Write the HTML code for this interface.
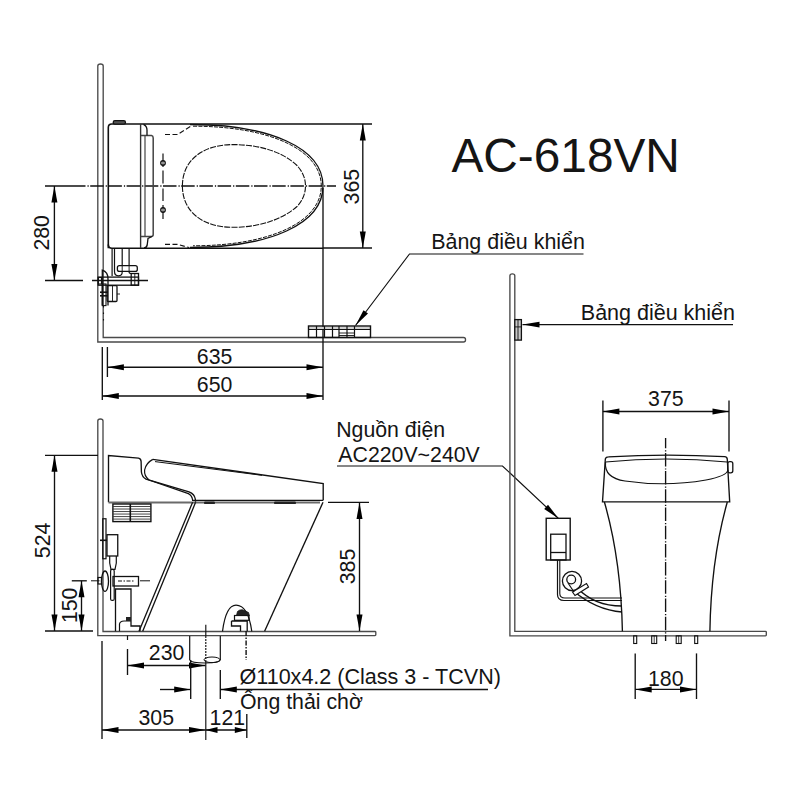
<!DOCTYPE html>
<html><head><meta charset="utf-8"><style>
html,body{margin:0;padding:0;background:#fff;}
svg{display:block;}
text{font-family:"Liberation Sans",sans-serif;fill:#151515;}
</style></head><body>
<svg width="800" height="800" viewBox="0 0 800 800">
<rect width="800" height="800" fill="#fff"/>
<path d="M97.8,66 Q97.8,64 100.5,64 Q103.2,64 103.2,66 L103.2,337.5 L463.5,337.5 Q465.5,337.5 465.5,339.5 L465.5,340 Q465.5,342 463.5,342 L97.8,342 Z" fill="none" stroke="#4a4a4a" stroke-width="1.35" />
<line x1="45" y1="186" x2="84" y2="186" stroke="#111" stroke-width="1.35" />
<line x1="84" y1="186" x2="336" y2="186" stroke="#111" stroke-width="1.35" stroke-dasharray="13.5 2 1.2 1.5" stroke-dashoffset="12.000000000000007"/>
<line x1="54.4" y1="186" x2="54.4" y2="280.5" stroke="#111" stroke-width="1.35" />
<polygon points="54.40,186.00 57.40,202.50 51.40,202.50" fill="#000"/>
<polygon points="54.40,280.50 51.40,264.00 57.40,264.00" fill="#000"/>
<line x1="45" y1="280.5" x2="83" y2="280.5" stroke="#111" stroke-width="1.35" />
<line x1="92" y1="280.5" x2="148" y2="280.5" stroke="#111" stroke-width="1.35" />
<text x="0" y="0" font-size="21.3" transform="translate(49.3 250.6) rotate(-90) scale(1.0 1.05)" >280</text>
<line x1="323" y1="124" x2="372" y2="124" stroke="#111" stroke-width="1.35" />
<line x1="323" y1="248" x2="372" y2="248" stroke="#111" stroke-width="1.35" />
<line x1="362.8" y1="124" x2="362.8" y2="248" stroke="#111" stroke-width="1.35" />
<polygon points="362.80,124.00 365.80,140.50 359.80,140.50" fill="#000"/>
<polygon points="362.80,248.00 359.80,231.50 365.80,231.50" fill="#000"/>
<text x="0" y="0" font-size="21.3" transform="translate(358.5 204.4) rotate(-90) scale(1.0 1.05)" >365</text>
<path d="M108.3,248.2 L108.3,127.5 Q108.3,124 111.8,124 L323,124" fill="none" stroke="#111" stroke-width="1.6" />
<path d="M108.3,244.5 Q108.3,248.2 112,248.2 L323,248.2" fill="none" stroke="#111" stroke-width="1.6" />
<rect x="113.2" y="120.6" width="12.3" height="3.6" rx="1.8" fill="#555" stroke="#111" stroke-width="1.3" />
<line x1="140.6" y1="124" x2="140.6" y2="248" stroke="#333" stroke-width="1.4" />
<path d="M141,135.5 L151.5,135.5 Q153.2,135.8 153.2,138 L153.2,234.5 Q153.2,236.4 151.5,236.4 L141,236.4" fill="none" stroke="#444" stroke-width="1.5" />
<line x1="145" y1="135.5" x2="145" y2="236.4" stroke="#444" stroke-width="1.2" />
<path d="M143.5,124.3 Q147,126 147,130 L147,135.5" fill="none" stroke="#111" stroke-width="1.3" />
<path d="M152,236.5 L148,238.5 L147.2,245 Q146.5,248 144,248" fill="none" stroke="#111" stroke-width="1.3" />
<line x1="163" y1="153.5" x2="163" y2="167" stroke="#111" stroke-width="1.2" />
<line x1="163" y1="170.5" x2="163" y2="183.5" stroke="#111" stroke-width="1.2" />
<line x1="163" y1="188.5" x2="163" y2="201" stroke="#111" stroke-width="1.2" />
<line x1="163" y1="205" x2="163" y2="219" stroke="#111" stroke-width="1.2" />
<circle cx="163" cy="163" r="2.3" fill="#666" stroke="#111" stroke-width="1.2"/>
<circle cx="163" cy="210" r="2.3" fill="#666" stroke="#111" stroke-width="1.2"/>
<line x1="161" y1="163" x2="165" y2="163" stroke="#eee" stroke-width="0.7" />
<line x1="161" y1="210" x2="165" y2="210" stroke="#eee" stroke-width="0.7" />
<path d="M190,124.5 C270,124.5 323,148 323,186 C323,224 270,247.5 190,247.5" fill="none" stroke="#111" stroke-width="1.35" />
<path d="M193,126.2 C269,126.2 321.3,149.5 321.3,186 C321.3,222.5 269,245.8 193,245.8" fill="none" stroke="#111" stroke-width="1.0" stroke-dasharray="4 1.2"/>
<path d="M165,134.5 L177.5,134.5 L192,125.5" fill="none" stroke="#111" stroke-width="1.1" stroke-dasharray="5 2.5"/>
<path d="M165,244.4 L177.5,244.4 L189,247.5" fill="none" stroke="#111" stroke-width="1.1" stroke-dasharray="5 2.5"/>
<path d="M182.4,186 C182.4,160 203,144.6 233,144.6 C262,144.6 284,153 297,165.5 C303,172 305.5,179 305.5,186 C305.5,193 303,200 297,206.5 C284,218 262,227.3 233,227.3 C203,227.3 182.4,212 182.4,186 Z" fill="none" stroke="#111" stroke-width="1.1" stroke-dasharray="6 1.2"/>
<line x1="323" y1="188" x2="323" y2="400" stroke="#111" stroke-width="1.35" />
<line x1="112.1" y1="248.5" x2="112.1" y2="276" stroke="#111" stroke-width="1.2" />
<path d="M114.5,248.5 L114.5,271.5 Q114.5,275.8 118.5,275.8 L118.5,275.8 Q122.2,275.8 122.2,272 L122.2,271.4" fill="none" stroke="#111" stroke-width="1.2" />
<line x1="122.2" y1="248.5" x2="122.2" y2="265.7" stroke="#111" stroke-width="1.2" />
<line x1="129.1" y1="248.5" x2="129.1" y2="265.7" stroke="#111" stroke-width="1.2" />
<rect x="117.4" y="265.7" width="19.9" height="5.7" rx="2" fill="none" stroke="#111" stroke-width="1.3" />
<line x1="122.2" y1="265.7" x2="122.2" y2="271.4" stroke="#111" stroke-width="0.9" />
<line x1="129.1" y1="265.7" x2="129.1" y2="271.4" stroke="#111" stroke-width="0.9" />
<path d="M129.1,271.4 L129.1,272 Q129.1,273.5 131.2,273.5" fill="none" stroke="#111" stroke-width="1.2" />
<rect x="98.25" y="277.1" width="40.25" height="8.1" rx="0" fill="none" stroke="#111" stroke-width="1.3" />
<rect x="131.2" y="273.5" width="7.3" height="11.7" rx="0" fill="none" stroke="#111" stroke-width="1.3" />
<line x1="134.8" y1="273.5" x2="134.8" y2="285.2" stroke="#111" stroke-width="0.9" />
<rect x="98.25" y="277.5" width="3.25" height="6.5" rx="0" fill="none" stroke="#111" stroke-width="1.1" />
<path d="M102.3,305.6 L102.3,270.2 Q108,272 108,279 L108,305.6" fill="none" stroke="#111" stroke-width="1.3" />
<rect x="102.3" y="284" width="3.7" height="21.6" rx="0" fill="none" stroke="#111" stroke-width="1.1" />
<line x1="100" y1="292.2" x2="108" y2="292.2" stroke="#111" stroke-width="1.6" />
<line x1="100" y1="295.8" x2="108" y2="295.8" stroke="#111" stroke-width="1.6" />
<rect x="107.2" y="285.6" width="9.8" height="15.9" rx="1" fill="none" stroke="#111" stroke-width="1.3" />
<line x1="112.5" y1="285.6" x2="112.5" y2="301.5" stroke="#111" stroke-width="0.9" />
<line x1="117" y1="294" x2="120" y2="294" stroke="#111" stroke-width="0.9" />
<line x1="103.5" y1="306" x2="103.5" y2="322" stroke="#111" stroke-width="1.1" stroke-dasharray="1.5 5"/>
<line x1="107.4" y1="347" x2="107.4" y2="377" stroke="#111" stroke-width="1.35" />
<line x1="102.3" y1="347" x2="102.3" y2="400" stroke="#111" stroke-width="1.35" />
<line x1="107.4" y1="367.2" x2="323" y2="367.2" stroke="#111" stroke-width="1.35" />
<polygon points="107.40,367.20 123.90,364.20 123.90,370.20" fill="#000"/>
<polygon points="323.00,367.20 306.50,370.20 306.50,364.20" fill="#000"/>
<line x1="102.3" y1="396" x2="323" y2="396" stroke="#111" stroke-width="1.35" />
<polygon points="102.30,396.00 118.80,393.00 118.80,399.00" fill="#000"/>
<polygon points="323.00,396.00 306.50,399.00 306.50,393.00" fill="#000"/>
<text x="0" y="0" font-size="21.3" transform="translate(196.8 363.5) scale(1.0 1.05)" >635</text>
<text x="0" y="0" font-size="21.3" transform="translate(196.8 392.2) scale(1.0 1.05)" >650</text>
<rect x="309" y="326.7" width="61" height="2.5" fill="#d0d0d0"/>
<rect x="308.5" y="326" width="62" height="11.5" rx="0" fill="none" stroke="#111" stroke-width="1.4" />
<line x1="308.5" y1="329.5" x2="370.5" y2="329.5" stroke="#111" stroke-width="1.1" />
<line x1="316.5" y1="326" x2="316.5" y2="337.5" stroke="#111" stroke-width="1.2" />
<line x1="324.5" y1="326" x2="324.5" y2="337.5" stroke="#111" stroke-width="1.2" />
<line x1="332.5" y1="326" x2="332.5" y2="337.5" stroke="#111" stroke-width="1.2" />
<line x1="339" y1="326" x2="339" y2="337.5" stroke="#111" stroke-width="1.2" />
<line x1="347" y1="326" x2="347" y2="337.5" stroke="#111" stroke-width="1.2" />
<line x1="354.5" y1="326" x2="354.5" y2="337.5" stroke="#111" stroke-width="1.2" />
<line x1="339" y1="333" x2="354.5" y2="333" stroke="#111" stroke-width="0.9" />
<line x1="339" y1="335.5" x2="354.5" y2="335.5" stroke="#111" stroke-width="0.9" />
<polyline points="355.5,325.5 409.5,254 583.5,254" fill="none" stroke="#111" stroke-width="1.15" />
<polygon points="355.50,325.50 363.51,310.25 367.98,313.62" fill="#000"/>
<text x="0" y="0" font-size="21.45" transform="translate(431.2 249)" >Bảng điều khiển</text>
<text x="0" y="0" font-size="47.8" transform="translate(451.4 171.6)" >AC-618VN</text>
<path d="M97.8,421 Q97.8,419 100.4,419 Q103,419 103,421 L103,631.5 L375.0,631.5 Q375.8,631.5 375.8,632.3 L375.8,634.8000000000001 Q375.8,635.6 375.0,635.6 L97.8,635.6 Z" fill="none" stroke="#4a4a4a" stroke-width="1.35" />
<line x1="45" y1="455.3" x2="98" y2="455.3" stroke="#111" stroke-width="1.35" />
<line x1="45" y1="631" x2="93" y2="631" stroke="#111" stroke-width="1.35" />
<line x1="54.5" y1="455.3" x2="54.5" y2="631" stroke="#111" stroke-width="1.35" />
<polygon points="54.50,455.30 57.50,471.80 51.50,471.80" fill="#000"/>
<polygon points="54.50,631.00 51.50,614.50 57.50,614.50" fill="#000"/>
<text x="0" y="0" font-size="21.3" transform="translate(49.6 558.2) rotate(-90) scale(1.0 1.05)" >524</text>
<line x1="71.8" y1="580.8" x2="86.8" y2="580.8" stroke="#111" stroke-width="1.35" />
<line x1="81.5" y1="580.8" x2="81.5" y2="631" stroke="#111" stroke-width="1.35" />
<polygon points="81.50,580.80 84.50,597.30 78.50,597.30" fill="#000"/>
<polygon points="81.50,631.00 78.50,614.50 84.50,614.50" fill="#000"/>
<text x="0" y="0" font-size="21.3" transform="translate(77.4 623.1) rotate(-90) scale(1.0 1.05)" >150</text>
<line x1="91" y1="580.8" x2="99.5" y2="580.8" stroke="#111" stroke-width="1.0" />
<line x1="140" y1="580.8" x2="150" y2="580.8" stroke="#111" stroke-width="1.0" />
<path d="M108.5,502.3 L108.5,455.6 L138.5,458.1 Q141,458.6 141.1,461.5 L141.4,472 Q142,477 146,479.2 L189,491.8 Q194.6,494 195.3,499 L195.6,502.3" fill="none" stroke="#111" stroke-width="1.35" />
<path d="M152.8,459.4 L323.2,483.6 L323.2,500.3" fill="none" stroke="#111" stroke-width="1.35" />
<path d="M155,461.6 L262,475.3" fill="none" stroke="#111" stroke-width="1.0" />
<path d="M152.8,459.4 Q146,463 144.6,470 Q144,476 149,480 L188.4,493.6 Q192,495.5 192.6,500" fill="none" stroke="#111" stroke-width="1.2" />
<line x1="108.5" y1="502.4" x2="320" y2="502.4" stroke="#6a6a6a" stroke-width="2.0" />
<line x1="192" y1="500.3" x2="323.2" y2="500.3" stroke="#111" stroke-width="1.3" />
<line x1="328" y1="502.4" x2="369" y2="502.4" stroke="#111" stroke-width="1.35" />
<rect x="204" y="501.5" width="11" height="2.6" rx="1.2" fill="#222"/>
<rect x="274" y="501.5" width="22" height="2.6" rx="1.2" fill="#222"/>
<line x1="195.6" y1="502.3" x2="142.7" y2="631.3" stroke="#111" stroke-width="1.3" />
<line x1="192.6" y1="502.3" x2="139" y2="631.3" stroke="#111" stroke-width="1.3" />
<line x1="323" y1="502.3" x2="264.6" y2="631.3" stroke="#111" stroke-width="1.35" />
<rect x="112.9" y="504" width="38" height="17.6" rx="0" fill="none" stroke="#111" stroke-width="1.4" />
<line x1="112.9" y1="506.51428571428573" x2="150.9" y2="506.51428571428573" stroke="#333" stroke-width="0.9" />
<line x1="112.9" y1="509.0285714285714" x2="150.9" y2="509.0285714285714" stroke="#333" stroke-width="0.9" />
<line x1="112.9" y1="511.54285714285714" x2="150.9" y2="511.54285714285714" stroke="#333" stroke-width="0.9" />
<line x1="112.9" y1="514.0571428571428" x2="150.9" y2="514.0571428571428" stroke="#333" stroke-width="0.9" />
<line x1="112.9" y1="516.5714285714286" x2="150.9" y2="516.5714285714286" stroke="#333" stroke-width="0.9" />
<line x1="112.9" y1="519.0857142857143" x2="150.9" y2="519.0857142857143" stroke="#333" stroke-width="0.9" />
<line x1="130.3" y1="504" x2="130.3" y2="521.6" stroke="#111" stroke-width="1.6" />
<rect x="102.75" y="518.75" width="3.25" height="40" rx="0" fill="none" stroke="#111" stroke-width="1.2" />
<rect x="107" y="534.7" width="10.75" height="21.3" rx="0" fill="none" stroke="#111" stroke-width="1.3" />
<line x1="100" y1="540.3" x2="107" y2="540.3" stroke="#111" stroke-width="1.6" />
<path d="M109.7,556 L109.7,563 L111,569.4 L115,569.4 L116.3,563 L116.3,556" fill="none" stroke="#111" stroke-width="1.2" />
<rect x="113" y="576.5" width="25.5" height="9.5" rx="0" fill="none" stroke="#111" stroke-width="1.3" />
<line x1="118" y1="581" x2="135" y2="581" stroke="#111" stroke-width="1.2" stroke-dasharray="4 1.5 1.5 1.5"/>
<ellipse cx="105" cy="581.2" rx="3.5" ry="10.2" fill="none" stroke="#111" stroke-width="1.3"/>
<rect x="98" y="577.5" width="3.5" height="6.5" rx="0" fill="none" stroke="#111" stroke-width="1.2" />
<rect x="110.6" y="569.4" width="3.6" height="31" rx="1.5" fill="none" stroke="#111" stroke-width="1.2" />
<path d="M115.5,631.3 L115.5,589 L131,589 L131,626 L140,626 L140,631.3" fill="none" stroke="#111" stroke-width="1.3" />
<path d="M119.5,631.3 L119.5,624 Q120,621 124,621 L131,621" fill="none" stroke="#111" stroke-width="1.2" />
<rect x="126" y="617" width="5" height="4" fill="#222"/>
<line x1="127.5" y1="635.5" x2="127.5" y2="640" stroke="#111" stroke-width="1.2" />
<path d="M222.5,631.3 Q226,605.2 236,605.2 Q248,605.2 251.8,631.3" fill="none" stroke="#111" stroke-width="1.2" />
<path d="M231.5,621 L247.2,621 L247.2,631.3 M231.5,621 L231.5,626 L240.5,626 L240.5,631.3" fill="none" stroke="#111" stroke-width="1.3" />
<rect x="234.5" y="615.5" width="14.5" height="4.8" rx="0" fill="none" stroke="#111" stroke-width="1.2" />
<path d="M236.5,615.5 L237.5,611.5 Q239.5,609.5 242.5,609.8 L248.5,612.5 L249.3,615.5 Z" fill="#222" stroke="#111" stroke-width="0.8"/>
<line x1="246.1" y1="631" x2="246.1" y2="660" stroke="#111" stroke-width="1.4" stroke-dasharray="5 1.5 1.5 1.5"/>
<line x1="205.8" y1="624.8" x2="205.8" y2="636" stroke="#111" stroke-width="1.15" />
<line x1="205.8" y1="636" x2="205.8" y2="661" stroke="#111" stroke-width="1.15" stroke-dasharray="2 1"/>
<line x1="205.8" y1="661" x2="205.8" y2="740" stroke="#111" stroke-width="1.15" />
<line x1="189.7" y1="636" x2="189.7" y2="660" stroke="#111" stroke-width="1.2" />
<line x1="220.3" y1="636" x2="220.3" y2="660" stroke="#111" stroke-width="1.2" />
<path d="M189.7,660 Q191,663 205,663 Q219,663 220.3,660" fill="none" stroke="#111" stroke-width="1.1"/>
<ellipse cx="212" cy="659.8" rx="8" ry="2.8" fill="none" stroke="#111" stroke-width="1"/>
<line x1="127.5" y1="649" x2="127.5" y2="675" stroke="#111" stroke-width="1.35" />
<line x1="127.5" y1="665.5" x2="205.5" y2="665.5" stroke="#111" stroke-width="1.35" />
<polygon points="127.50,665.50 144.00,662.50 144.00,668.50" fill="#000"/>
<polygon points="205.50,665.50 189.00,668.50 189.00,662.50" fill="#000"/>
<text x="0" y="0" font-size="21.3" transform="translate(148.8 660) scale(1.0 1.05)" >230</text>
<line x1="190.7" y1="660" x2="190.7" y2="699" stroke="#111" stroke-width="1.35" />
<line x1="220.3" y1="670" x2="220.3" y2="699" stroke="#111" stroke-width="1.35" />
<line x1="160" y1="689.5" x2="190.7" y2="689.5" stroke="#111" stroke-width="1.35" />
<polygon points="190.70,689.50 174.20,692.50 174.20,686.50" fill="#000"/>
<line x1="220.3" y1="689.5" x2="488" y2="689.5" stroke="#111" stroke-width="1.35" />
<polygon points="220.30,689.50 236.80,686.50 236.80,692.50" fill="#000"/>
<text x="0" y="0" font-size="21.55" transform="translate(239.5 684.4)" >Ø110x4.2 (Class 3 - TCVN)</text>
<text x="0" y="0" font-size="21.3" transform="translate(240 708.5)" >Ống thải chờ</text>
<line x1="102" y1="641" x2="102" y2="739" stroke="#111" stroke-width="1.35" />
<line x1="102" y1="730" x2="205.5" y2="730" stroke="#111" stroke-width="1.35" />
<polygon points="102.00,730.00 118.50,727.00 118.50,733.00" fill="#000"/>
<polygon points="205.50,730.00 189.00,733.00 189.00,727.00" fill="#000"/>
<text x="0" y="0" font-size="21.3" transform="translate(138.5 724.5) scale(1.0 1.05)" >305</text>
<line x1="246.8" y1="714" x2="246.8" y2="738" stroke="#111" stroke-width="1.35" />
<line x1="205.5" y1="730" x2="246.8" y2="730" stroke="#111" stroke-width="1.35" />
<polygon points="205.50,730.00 217.50,727.00 217.50,733.00" fill="#000"/>
<polygon points="246.80,730.00 234.80,733.00 234.80,727.00" fill="#000"/>
<text x="0" y="0" font-size="21.3" transform="translate(209.6 724.5) scale(1.0 1.05)" >121</text>
<line x1="359.5" y1="502.4" x2="359.5" y2="631" stroke="#111" stroke-width="1.35" />
<polygon points="359.50,502.40 362.50,518.90 356.50,518.90" fill="#000"/>
<polygon points="359.50,631.00 356.50,614.50 362.50,614.50" fill="#000"/>
<text x="0" y="0" font-size="21.3" transform="translate(354.6 584.3) rotate(-90) scale(1.0 1.05)" >385</text>
<text x="0" y="0" font-size="21.3" transform="translate(336.2 437.4)" >Nguồn điện</text>
<text x="0" y="0" font-size="21.3" transform="translate(338.3 462)" >AC220V~240V</text>
<polyline points="337,466 502.5,466 558.5,518.5" fill="none" stroke="#111" stroke-width="1.15" />
<polygon points="558.50,518.50 544.18,508.92 548.01,504.83" fill="#000"/>
<path d="M509.9,275.8 Q509.9,273.8 512.3499999999999,273.8 Q514.8,273.8 514.8,275.8 L514.8,631.3 L765.5,631.3 Q766.3,631.3 766.3,632.0999999999999 L766.3,635.0 Q766.3,635.8 765.5,635.8 L509.9,635.8 Z" fill="none" stroke="#4a4a4a" stroke-width="1.35" />
<rect x="514.8" y="319.6" width="6.6" height="20.5" rx="0" fill="#c8c8c8" stroke="#111" stroke-width="1.3" />
<line x1="518" y1="319.6" x2="518" y2="340.1" stroke="#111" stroke-width="0.9" />
<line x1="514.8" y1="326.9" x2="521.4" y2="326.9" stroke="#111" stroke-width="0.9" />
<line x1="522.5" y1="324.6" x2="733" y2="324.6" stroke="#111" stroke-width="1.35" />
<polygon points="522.50,324.60 539.50,321.80 539.50,327.40" fill="#000"/>
<text x="0" y="0" font-size="21.5" transform="translate(580.8 319.5)" >Bảng điều khiển</text>
<line x1="602.9" y1="400.6" x2="602.9" y2="451.6" stroke="#111" stroke-width="1.35" />
<line x1="729" y1="400.6" x2="729" y2="451.6" stroke="#111" stroke-width="1.35" />
<line x1="602.9" y1="411.5" x2="729" y2="411.5" stroke="#111" stroke-width="1.35" />
<polygon points="602.90,411.50 619.40,408.50 619.40,414.50" fill="#000"/>
<polygon points="729.00,411.50 712.50,414.50 712.50,408.50" fill="#000"/>
<text x="0" y="0" font-size="21.3" transform="translate(648.1 406.4) scale(1.0 1.05)" >375</text>
<line x1="665.6" y1="438" x2="665.6" y2="641" stroke="#111" stroke-width="1.35" stroke-dasharray="13.5 2 1.2 1.5" stroke-dashoffset="3.3"/>
<path d="M605.3,459.5 Q605.3,456.9 608.5,456.8 Q666,453.5 724.5,456.6 Q727.3,456.7 727.3,459.5 L729.7,501.9 L602.5,501.9 Z" fill="none" stroke="#111" stroke-width="1.35" />
<path d="M605.5,462 Q666,456 727.2,462" fill="none" stroke="#111" stroke-width="1.2" />
<path d="M605.5,462 Q604,478 625,481 Q666,487 706,480 Q727,476 728,470" fill="none" stroke="#111" stroke-width="1.2" />
<rect x="727.8" y="461.6" width="5" height="11.2" rx="2" fill="none" stroke="#111" stroke-width="1.3" />
<path d="M604.4,502 Q621,560 622.4,631.3" fill="none" stroke="#111" stroke-width="1.35" />
<path d="M727.3,502 Q711,560 709.9,631.3" fill="none" stroke="#111" stroke-width="1.35" />
<rect x="633.7" y="635.8" width="3" height="7.7" rx="0" fill="none" stroke="#111" stroke-width="1.1" />
<rect x="651.7" y="635.8" width="5" height="7.7" rx="0" fill="none" stroke="#111" stroke-width="1.1" />
<line x1="654.2" y1="635.8" x2="654.2" y2="643.5" stroke="#111" stroke-width="0.8" />
<rect x="676.2" y="635.8" width="5" height="7.7" rx="0" fill="none" stroke="#111" stroke-width="1.1" />
<line x1="678.7" y1="635.8" x2="678.7" y2="643.5" stroke="#111" stroke-width="0.8" />
<rect x="694.7" y="635.8" width="3" height="7.7" rx="0" fill="none" stroke="#111" stroke-width="1.1" />
<line x1="635.2" y1="653.4" x2="635.2" y2="699" stroke="#111" stroke-width="1.35" />
<line x1="696.5" y1="653.4" x2="696.5" y2="699" stroke="#111" stroke-width="1.35" />
<line x1="635.2" y1="689.4" x2="696.5" y2="689.4" stroke="#111" stroke-width="1.35" />
<polygon points="635.20,689.40 651.70,686.40 651.70,692.40" fill="#000"/>
<polygon points="696.50,689.40 680.00,692.40 680.00,686.40" fill="#000"/>
<text x="0" y="0" font-size="21.3" transform="translate(648 685.7) scale(1.0 1.05)" >180</text>
<rect x="546.2" y="518.3" width="24" height="41.7" rx="0" fill="none" stroke="#111" stroke-width="1.4" />
<rect x="550.7" y="534.2" width="15.3" height="25.8" rx="0" fill="none" stroke="#111" stroke-width="1.3" />
<line x1="550.7" y1="552.5" x2="566" y2="552.5" stroke="#111" stroke-width="1.3" />
<path d="M557.5,560 L557.5,594.5 Q557.5,600.5 564,600.5 L622,600.5" fill="none" stroke="#111" stroke-width="1.2" />
<path d="M559.8,560 L559.8,593.5 Q559.8,598 565,598 L622,598" fill="none" stroke="#111" stroke-width="1.1" />
<circle cx="572" cy="581" r="9.6" fill="none" stroke="#111" stroke-width="1.3"/>
<circle cx="571.2" cy="579.5" r="4.4" fill="none" stroke="#111" stroke-width="1.3"/>
<path d="M577.5,588 Q594,606 622,606" fill="none" stroke="#111" stroke-width="1.3" />
<path d="M573.5,591 Q596,610 622,612" fill="none" stroke="#111" stroke-width="1.3" />
<path d="M572.5,592 L586.5,583.5 L588.5,587 L575,595.5 Z" fill="#fff" stroke="#111" stroke-width="1.2"/>
<line x1="568" y1="583" x2="574" y2="592" stroke="#111" stroke-width="1.2" />
</svg></body></html>
